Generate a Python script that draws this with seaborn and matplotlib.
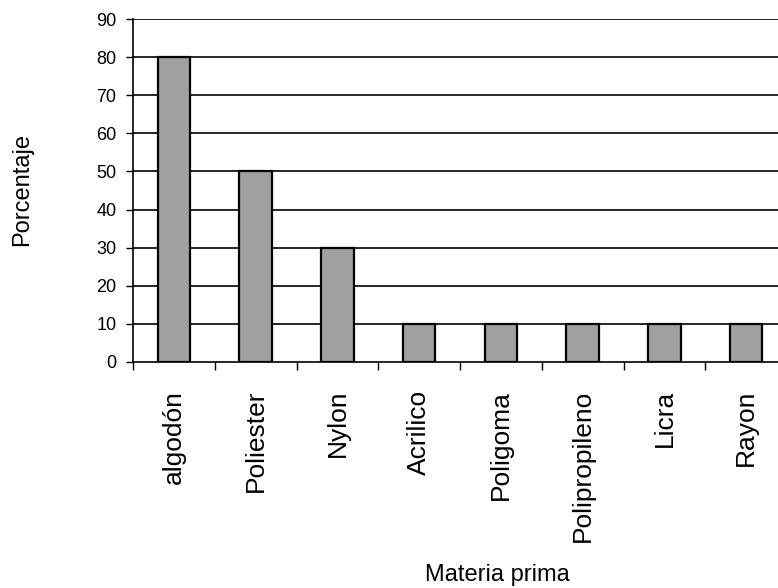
import matplotlib
matplotlib.use("Agg")
import matplotlib.pyplot as plt
import seaborn as sns
import pandas as pd
import numpy as np

materias = ["algodón", "Poliester", "Nylon", "Acrilico", "Poligoma",
            "Polipropileno", "Licra", "Rayon"]
porcentajes = [80, 50, 30, 10, 10, 10, 10, 10]
yticks = [0, 10, 20, 30, 40, 50, 60, 70, 80, 90]

sns.set_style("white")
plt.rcParams["font.family"] = ["Liberation Sans", "DejaVu Sans"]
plt.rcParams["text.color"] = "black"
plt.rcParams["xtick.color"] = "black"
plt.rcParams["ytick.color"] = "black"

df = pd.DataFrame({"Materia prima": materias, "Porcentaje": porcentajes})

fig = plt.figure(figsize=(7.78, 5.88), dpi=100)
ax = fig.add_axes([133 / 778, 226 / 588, (787 - 133) / 778, 343 / 588])

sns.barplot(data=df, x="Materia prima", y="Porcentaje", ax=ax,
            color="#a0a0a0", edgecolor="black", linewidth=1.6,
            width=0.4, saturation=1, zorder=3)

ax.set_ylim(0, 90)
ax.set_xlim(-0.5, len(materias) - 0.5)
ax.set_yticks(yticks)
ax.set_yticklabels([str(v) for v in yticks], fontsize=13)
for v in yticks[1:]:
    ax.axhline(v, color="black", linewidth=1.2, zorder=1)

# category labels centred under bars, tick marks on category boundaries
ax.set_xticks(range(len(materias)))
ax.set_xticklabels(materias, rotation=90, fontsize=19)
ax.set_xticks(np.arange(-0.5, len(materias), 1.0), minor=True)
ax.tick_params(axis="x", which="major", length=0, pad=20)
ax.tick_params(axis="x", which="minor", length=6, width=1, color="black",
               direction="out", bottom=True)
ax.tick_params(axis="y", which="major", length=5, width=1, color="black",
               direction="out", left=True, pad=7)

for side in ["top", "right"]:
    ax.spines[side].set_visible(False)
for side in ["left", "bottom"]:
    ax.spines[side].set_color("black")
    ax.spines[side].set_linewidth(1.2)

ax.set_xlabel("")
ax.set_ylabel("")
fig.text(497 / 778, 1 - 575 / 588, "Materia prima", ha="center", va="center",
         fontsize=17)
fig.text(22 / 778, 1 - 190 / 588, "Porcentaje", ha="center", va="center",
         rotation=90, fontsize=17)

fig.savefig("out.png", dpi=100)
